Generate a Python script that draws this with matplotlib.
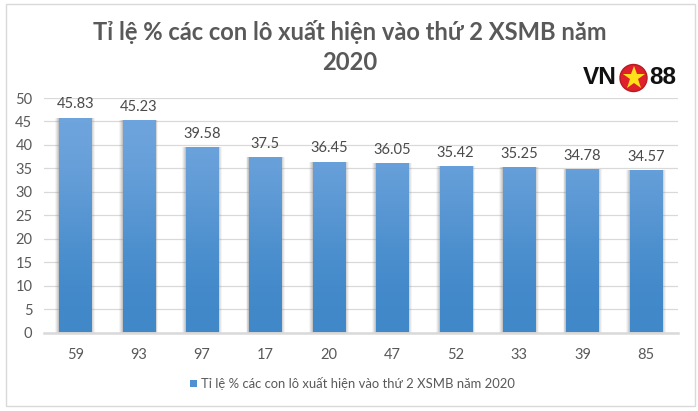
"""Tỉ lệ lô thứ 2 XSMB bar chart."""
import matplotlib
matplotlib.use("Agg")
import matplotlib.pyplot as plt
from matplotlib.patches import Circle, Rectangle
import numpy as np

W, H = 698, 411
TEXT = "#595959"
GRID = "#D9D9D9"

categories = ["59", "93", "97", "17", "20", "47", "52", "33", "39", "85"]
values = [45.83, 45.23, 39.58, 37.5, 36.45, 36.05, 35.42, 35.25, 34.78, 34.57]
value_labels = ["45.83", "45.23", "39.58", "37.5", "36.45", "36.05", "35.42", "35.25", "34.78", "34.57"]
yticks = [0, 5, 10, 15, 20, 25, 30, 35, 40, 45, 50]
series_name = "Tỉ lệ % các con lô xuất hiện vào thứ 2 XSMB năm 2020"
title_lines = ["Tỉ lệ % các con lô xuất hiện vào thứ 2 XSMB năm", "2020"]

plt.rcParams["font.family"] = ["Lato", "Noto Sans", "DejaVu Sans"]

fig = plt.figure(figsize=(W / 100, H / 100), dpi=100, facecolor="white")

# chart border
fig.add_artist(Rectangle((5.5 / W, 1 - 406 / H), 689.5 / W, 401.5 / H, transform=fig.transFigure,
                         fill=False, edgecolor=GRID, linewidth=1))

ax = fig.add_axes([43.5 / W, 1 - 332.5 / H, 634 / W, 234.5 / H])
ax.set_yticks(yticks)
ax.set_xticks(range(len(categories)))
ax.set_xticklabels(categories)
ax.tick_params(length=0, labelsize=10.5, labelcolor=TEXT)
ax.tick_params(axis="x", pad=11)
ax.tick_params(axis="y", pad=8)
for side in ["top", "right", "left"]:
    ax.spines[side].set_visible(False)
ax.spines["bottom"].set_color(GRID)
ax.spines["bottom"].set_linewidth(1.8)
ax.grid(True, axis="y", color=GRID, linewidth=0.9)
ax.set_axisbelow(True)

x = np.arange(len(categories))
width = 0.505

# soft shadow on the sides of the bars
for extra, alpha in [(0.12, 0.08), (0.09, 0.12), (0.06, 0.16), (0.03, 0.22)]:
    ax.bar(x, values, width + extra, color="#808080", alpha=alpha, zorder=2, linewidth=0)

# vertical gradient clipped to each bar
grad = np.array([[0.0], [1.0]])
cmap = matplotlib.colors.LinearSegmentedColormap.from_list("bar", ["#71A6DE", "#3F87C8"])
bars = ax.bar(x, values, width, color="none", linewidth=0, zorder=3)
for b, v, lab in zip(bars, values, value_labels):
    im = ax.imshow(grad, extent=(b.get_x(), b.get_x() + b.get_width(), 0, 50), cmap=cmap,
                   aspect="auto", origin="upper", zorder=3, interpolation="bicubic")
    im.set_clip_path(Rectangle((b.get_x(), 0), b.get_width(), v, transform=ax.transData))
    ax.text(b.get_x() + b.get_width() / 2, v + 1.3, lab, ha="center", va="bottom",
            fontsize=10.5, color="#4A4A4A", zorder=4)
ax.set_xlim(-0.5, 9.5)
ax.set_ylim(0, 50)

fig.text(350 / W, 1 - 32 / H, title_lines[0], ha="center", va="center", fontsize=17.1,
         fontweight="bold", color=TEXT)
fig.text(350 / W, 1 - 63 / H, title_lines[1], ha="center", va="center", fontsize=17.1,
         fontweight="bold", color=TEXT)

# legend
fig.add_artist(Rectangle((190 / W, 1 - 387 / H), 7.5 / W, 7.5 / H, transform=fig.transFigure,
                         facecolor="#4F90D0", edgecolor="none"))
fig.text(201 / W, 1 - 383 / H, series_name, ha="left", va="center", fontsize=9.4, color=TEXT)

# VN88 logo
logo_font = ["Liberation Sans", "DejaVu Sans"]
fig.text(617 / W, 1 - 78 / H, "VN", ha="right", va="center", fontsize=17.6, fontweight="bold",
         color="#111111", family=logo_font)
fig.text(649.5 / W, 1 - 78 / H, "88", ha="left", va="center", fontsize=17.6, fontweight="bold",
         color="#111111", family=logo_font)
logo = fig.add_axes([618.5 / W, 1 - 93 / H, 30 / W, 30 / H])
logo.set_xlim(-1, 1)
logo.set_ylim(-1, 1)
logo.axis("off")
logo.add_patch(Circle((0, 0), 0.9, facecolor="#E0202A", edgecolor="#B81A22", linewidth=1))
logo.plot([0], [0.0], marker="*", markersize=17, color="#FFE11A", markeredgewidth=0)

fig.savefig("out.png", dpi=100)
